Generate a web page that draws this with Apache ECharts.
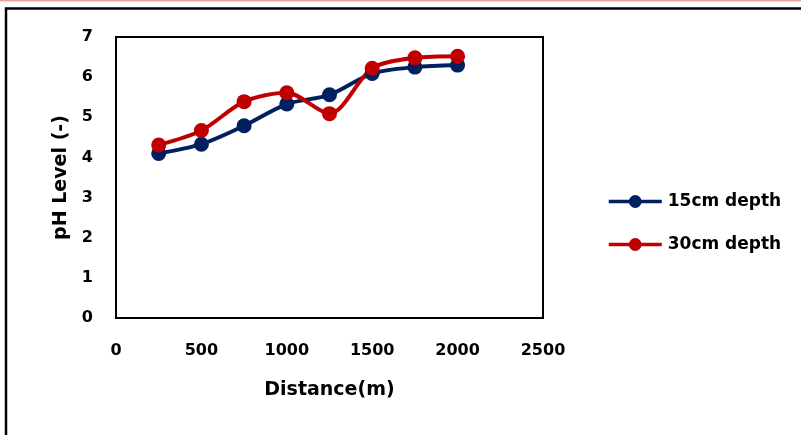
<!DOCTYPE html>
<html><head><meta charset="utf-8">
<script src="https://cdn.jsdelivr.net/npm/echarts@6/dist/echarts.min.js"></script>
<style>html,body{margin:0;padding:0;background:#fff}#c{width:801px;height:435px}</style>
</head><body><div id="c"></div>
<script>
const distances = [250, 500, 750, 1000, 1250, 1500, 1750, 2000];
const depth15 = [4.10, 4.33, 4.79, 5.33, 5.56, 6.09, 6.25, 6.30];
const depth30 = [4.31, 4.67, 5.39, 5.61, 5.09, 6.22, 6.48, 6.52];
const seriesNames = ['15cm depth', '30cm depth'];
const xTitle = 'Distance(m)';
const yTitle = 'pH Level (-)';

const font = '"DejaVu Sans", sans-serif';
const chart = echarts.init(document.getElementById('c'));
const pairs = arr => distances.map((d, i) => [d, arr[i]]);
chart.setOption({
  animation: false,
  graphic: [
    {type: 'rect', shape: {x: 0, y: 0, width: 801, height: 1.5}, style: {fill: '#e8a4a4'}, silent: true},
    {type: 'polyline', shape: {points: [[6, 440], [6, 8.5], [810, 8.5]]}, style: {stroke: '#000', lineWidth: 2.5, fill: null}, silent: true}
  ],
  grid: {left: 116, top: 37, width: 427, height: 281, show: true, borderColor: '#000', borderWidth: 2, backgroundColor: 'transparent'},
  legend: {
    orient: 'vertical', left: 607, top: 193, padding: 0, itemGap: 26, itemWidth: 53, itemHeight: 16,
    lineStyle: {width: 3.5},
    textStyle: {fontFamily: font, fontWeight: 'bold', fontSize: 17, color: '#000', padding: [0, 0, 0, 1]},
    data: seriesNames
  },
  xAxis: {
    type: 'value', min: 0, max: 2500, interval: 500,
    name: xTitle, nameLocation: 'middle', nameGap: 63,
    nameTextStyle: {fontFamily: font, fontWeight: 'bold', fontSize: 19, color: '#000'},
    axisLine: {show: false}, axisTick: {show: false}, splitLine: {show: false},
    axisLabel: {margin: 25, fontFamily: font, fontWeight: 'bold', fontSize: 16, color: '#000', formatter: v => String(v)}
  },
  yAxis: {
    type: 'value', min: 0, max: 7, interval: 1,
    name: yTitle, nameLocation: 'middle', nameGap: 42,
    nameTextStyle: {fontFamily: font, fontWeight: 'bold', fontSize: 19, color: '#000'},
    axisLine: {show: false}, axisTick: {show: false}, splitLine: {show: false},
    axisLabel: {margin: 23, fontFamily: font, fontWeight: 'bold', fontSize: 16, color: '#000'}
  },
  series: [
    {name: seriesNames[0], type: 'line', smooth: 0.3, data: pairs(depth15), symbol: 'circle', symbolSize: 15,
     lineStyle: {color: '#002060', width: 4}, itemStyle: {color: '#002060'}},
    {name: seriesNames[1], type: 'line', smooth: 0.3, data: pairs(depth30), symbol: 'circle', symbolSize: 15,
     lineStyle: {color: '#C00000', width: 4}, itemStyle: {color: '#C00000'}}
  ]
});
</script></body></html>
